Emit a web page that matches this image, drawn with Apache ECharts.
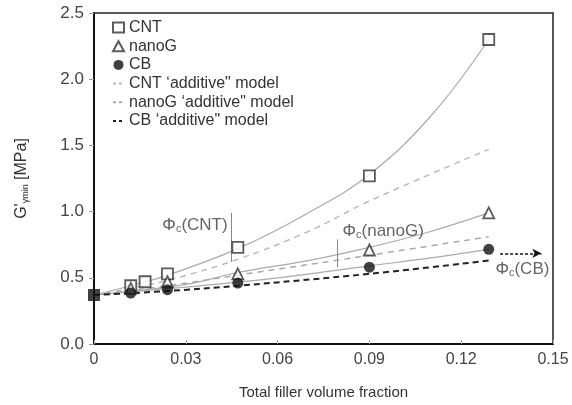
<!DOCTYPE html>
<html lang="en" style="height: 100%">
<head>
  <meta charset="utf-8">
</head>
<body style="height: 100%; margin: 0; background: #fff">
  <div id="container" style="height: 100%"></div>

  <script type="text/javascript" src="https://cdn.jsdelivr.net/npm/echarts@6/dist/echarts.min.js"></script>

  <script type="text/javascript">
    var dom = document.getElementById('container');
    var myChart = echarts.init(dom, null, { renderer: 'canvas' });

    // measured points [volume fraction, G' min]
    const neatPoint = [[0, 0.37]];
    const cntPoints = [[0.012, 0.44], [0.0167, 0.47], [0.024, 0.53], [0.047, 0.73], [0.09, 1.27], [0.129, 2.30]];
    const nanoGPoints = [[0.012, 0.42], [0.024, 0.47], [0.047, 0.53], [0.09, 0.71], [0.129, 0.99]];
    const cbPoints = [[0.012, 0.385], [0.024, 0.41], [0.047, 0.46], [0.09, 0.58], [0.129, 0.715]];

    // fitted curves (solid grey)
    const cntFit = [[0, 0.37], [0.012, 0.44], [0.024, 0.52], [0.047, 0.72], [0.07, 0.99], [0.09, 1.28], [0.11, 1.72], [0.129, 2.30]];
    const nanoGFit = [[0, 0.37], [0.03, 0.45], [0.047, 0.54], [0.07, 0.63], [0.09, 0.73], [0.11, 0.85], [0.129, 0.99]];
    const cbFit = [[0, 0.37], [0.03, 0.43], [0.06, 0.50], [0.09, 0.59], [0.11, 0.65], [0.129, 0.715]];

    // "additive" model lines (dashed)
    const cntAdd = [[0, 0.37], [0.012, 0.42], [0.024, 0.48], [0.047, 0.64], [0.07, 0.85], [0.09, 1.08], [0.129, 1.47]];
    const nanoGAdd = [[0, 0.37], [0.024, 0.44], [0.047, 0.52], [0.09, 0.67], [0.129, 0.81]];
    const cbAdd = [[0, 0.37], [0.024, 0.40], [0.047, 0.44], [0.09, 0.53], [0.129, 0.63]];

    // percolation thresholds
    const phiCNT = 0.0447;
    const phiNanoG = 0.0794;
    const phiLabels = [
      { name: 'CNT', coord: [0.033, 0.90] },
      { name: 'nanoG', coord: [0.0945, 0.85] },
      { name: 'CB', coord: [0.140, 0.565] }
    ];

    const xTicks = [0, 0.03, 0.06, 0.09, 0.12, 0.15];

    const subRich = {
      sub: { fontSize: 11, verticalAlign: 'bottom', padding: [8, 0, 0, 0], color: '#666' }
    };

    function fitLine(data, extra) {
      return Object.assign({
        type: 'line',
        data: data,
        smooth: 0.4,
        symbol: 'none',
        silent: true,
        lineStyle: { color: '#aaa', width: 1.2 },
        z: 1
      }, extra || {});
    }

    const hiddenDot = { opacity: 0 };
    const legendDash = { type: [3, 3] };

    var option = {
      animation: false,
      textStyle: { fontFamily: 'Liberation Sans, Arial, sans-serif' },
      grid: {
        left: 94, right: 19, top: 13, bottom: 60,
        show: true, borderColor: '#222', borderWidth: 1.5
      },
      legend: {
        orient: 'vertical',
        left: 107,
        top: 14,
        itemWidth: 11,
        itemHeight: 10,
        itemGap: 1.7,
        textStyle: { fontSize: 16, color: '#333', lineHeight: 17, padding: [0, 0, 0, 0] },
        data: [
          'CNT', 'nanoG', 'CB',
          { name: 'CNT \u2018additive" model', itemStyle: hiddenDot, lineStyle: legendDash },
          { name: 'nanoG \u2018additive" model', itemStyle: hiddenDot, lineStyle: legendDash },
          { name: 'CB \u2018additive" model', itemStyle: hiddenDot, lineStyle: legendDash }
        ]
      },
      xAxis: {
        type: 'value',
        min: 0, max: 0.15, interval: 0.03,
        name: 'Total filler volume fraction',
        nameLocation: 'middle',
        nameGap: 41,
        nameTextStyle: { fontSize: 15, color: '#333' },
        axisLine: { lineStyle: { color: '#111', width: 2 } },
        axisTick: { inside: true, length: 4, lineStyle: { color: '#aaa' } },
        axisLabel: {
          fontSize: 16, color: '#444', margin: 8,
          formatter: function (v) {
            return xTicks.indexOf(v) === 0 ? '0' : String(Math.round(v * 100) / 100);
          }
        },
        splitLine: { show: false }
      },
      yAxis: {
        type: 'value',
        min: 0, max: 2.5, interval: 0.5,
        name: 'G\'{sub|\u03b3min} [MPa]',
        nameLocation: 'middle',
        nameGap: 64,
        nameRotate: 90,
        nameTextStyle: {
          fontSize: 16, color: '#333',
          rich: { sub: { fontSize: 9, color: '#333', padding: [8, 0, 0, 0] } }
        },
        axisLine: { show: true, lineStyle: { color: '#111', width: 2 } },
        axisTick: { show: true, length: 5, lineStyle: { color: '#999' } },
        axisLabel: {
          fontSize: 17, color: '#444', margin: 10,
          formatter: function (v) { return v.toFixed(1); }
        },
        splitLine: { show: false }
      },
      series: [
        fitLine(cntFit, {
          markLine: {
            silent: true, symbol: 'none', label: { show: false },
            lineStyle: { color: '#888', width: 1, type: 'solid' },
            data: [
              [{ coord: [phiCNT, 0.62] }, { coord: [phiCNT, 0.99] }],
              [{ coord: [phiNanoG, 0.58] }, { coord: [phiNanoG, 0.79] }]
            ]
          },
          markPoint: {
            silent: true, symbol: 'circle', symbolSize: 0,
            label: {
              show: true, position: 'inside', fontSize: 17, color: '#666',
              formatter: function (p) { return '\u03a6{sub|c}(' + p.name + ')'; },
              rich: subRich
            },
            data: phiLabels
          }
        }),
        fitLine(nanoGFit),
        fitLine(cbFit, {
          markLine: {
            silent: true, symbol: ['none', 'arrow'], symbolSize: [7, 9], label: { show: false },
            lineStyle: { color: '#111', width: 1.5, type: [3, 2] },
            data: [[{ coord: [0.1327, 0.685] }, { coord: [0.1462, 0.685] }]]
          }
        }),
        {
          name: 'CNT \u2018additive" model', type: 'line', data: cntAdd, smooth: 0.4, symbol: 'none',
          lineStyle: { color: '#bbb', width: 1.5, type: [6, 5] }, z: 2
        },
        {
          name: 'nanoG \u2018additive" model', type: 'line', data: nanoGAdd, smooth: 0.4, symbol: 'none',
          lineStyle: { color: '#aaa', width: 1.5, type: [6, 5] }, z: 2
        },
        {
          name: 'CB \u2018additive" model', type: 'line', data: cbAdd, smooth: 0.4, symbol: 'none',
          lineStyle: { color: '#222', width: 2, type: [6, 4] }, z: 2
        },
        {
          name: 'CNT', type: 'scatter', data: cntPoints, symbol: 'rect', symbolSize: 11,
          itemStyle: { color: '#fff', borderColor: '#333', borderWidth: 1.8 }, z: 5
        },
        {
          name: 'nanoG', type: 'scatter', data: nanoGPoints, symbol: 'triangle', symbolSize: 11,
          itemStyle: { color: '#fff', borderColor: '#333', borderWidth: 1.8 }, z: 6
        },
        {
          name: 'CB', type: 'scatter', data: cbPoints, symbol: 'circle', symbolSize: 11,
          itemStyle: { color: '#111' }, z: 7
        },
        {
          name: 'neat', type: 'scatter', data: neatPoint, symbol: 'rect', symbolSize: 12,
          itemStyle: { color: '#111' }, z: 8
        }
      ]
    };

    myChart.setOption(option);
    window.addEventListener('resize', myChart.resize);
  </script>
</body>
</html>
